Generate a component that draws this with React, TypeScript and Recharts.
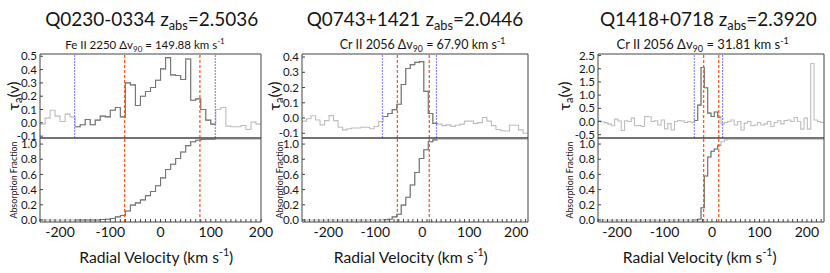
import React from 'react';
import { ComposedChart, Line, XAxis, YAxis, ReferenceLine } from 'recharts';

const FONT = 'Lato, "Noto Sans", sans-serif';
const INK = '#151515';
const FRAME = '#444';
const LIGHT = '#bdbdbd';
const DARK = '#767676';
const BLUE = '#7474ff';
const RED = '#ff5a1e';

const TOP_Y = 54;
const MID_Y = 138;
const BOT_Y = 222;
const AXIS_W = 40;
const PAD = 9; // room above/below each plot so tick labels are not clipped
const RIGHT_PAD = 14;

// shared ticks
const velTicks = [-200, -100, 0, 100, 200];
const velMinor = [
  -250, -240, -230, -220, -210, -190, -180, -170, -160, -150, -140, -130, -120, -110,
  -90, -80, -70, -60, -50, -40, -30, -20, -10, 10, 20, 30, 40, 50, 60, 70, 80, 90,
  110, 120, 130, 140, 150, 160, 170, 180, 190, 210, 220, 230, 240, 250,
];
const fracTicks = [0, 0.2, 0.4, 0.6, 0.8, 1.0];
const fracDomain: [number, number] = [-0.027, 1.08];

// Q0230-0334, Fe II 2250 (bin edges in km/s)
const vel1 = [
  -240, -230, -220, -210, -200, -190, -180, -170, -160, -150, -140, -130, -120, -110, -100,
  -90, -80, -70, -60, -50, -40, -30, -20, -10, 0, 10, 20, 30, 40, 50, 60, 70, 80, 90, 100,
  110, 120, 130, 140, 150, 160, 170, 180, 190, 200,
];
const tau1 = [
  -0.01, 0.035, 0.095, 0.05, 0.01, 0.065, 0.045, -0.03, -0.015, 0.025,
  -0.015, 0.02, 0.05, 0.045, 0.095, 0.115, 0.045, 0.3, 0.285, 0.13,
  0.2, 0.235, 0.265, 0.32, 0.405, 0.49, 0.36, 0.355, 0.325, 0.48,
  0.17, 0.18, 0.1, 0.02, -0.01, 0.1, 0.115, -0.025, -0.03, -0.03,
  -0.02, -0.05, 0.005, -0.01,
];
const frac1 = [
  0, 0, 0, 0, 0, 0, 0, 0, 0, 0, 0, 0,
  0.005, 0.01, 0.02, 0.04, 0.058, 0.117, 0.195, 0.225, 0.265, 0.32,
  0.375, 0.45, 0.555, 0.665, 0.735, 0.81, 0.895, 0.98, 1.03, 1.05,
  1.06, 1.065, 1.065, 1.065, 1.065, 1.065, 1.065, 1.065, 1.065, 1.065, 1.065, 1.065,
];
const tauTicks1 = [-0.1, 0, 0.1, 0.2, 0.3, 0.4, 0.5];
const blue1 = [-171, 109];
const red1 = [-71.5, 78.4];

// Q0743+1421, Cr II 2056
const vel2 = [
  -256, -246.4, -236.8, -227.2, -217.6, -208, -198.4, -188.8, -179.2, -169.6,
  -160, -150.4, -140.8, -131.2, -121.6, -112, -102.4, -92.8, -83.2, -73.6,
  -64, -54.4, -44.8, -35.2, -25.6, -16, -6.4, 3.2, 12.8, 22.4,
  32, 41.6, 51.2, 60.8, 70.4, 80, 89.6, 99.2, 108.8, 118.4,
  128, 137.6, 147.2, 156.8, 166.4, 176, 185.6, 195.2, 204.8, 214.4, 224,
];
const tau2 = [
  -0.02, -0.005, 0.015, -0.013, -0.045, -0.017, 0.016, -0.017, -0.06, -0.078,
  -0.07, -0.065, -0.065, -0.06, -0.06, -0.07, -0.056, -0.023, 0.01, 0.03,
  0.055, 0.09, 0.22, 0.325, 0.35, 0.365, 0.37, 0.175, 0.03, -0.035,
  -0.04, -0.05, -0.045, -0.055, -0.047, -0.04, -0.02, -0.02, -0.035, -0.03,
  0.003, -0.02, -0.05, -0.075, -0.083, -0.085, -0.047, -0.047, -0.078, -0.1,
];
const frac2 = [
  0, 0, 0, 0, 0, 0, 0, 0, 0, 0, 0, 0, 0, 0, 0, 0, 0, 0,
  0.003, 0.01, 0.04, 0.075, 0.195, 0.3, 0.46, 0.625, 0.81, 0.925, 1.03,
  1.055, 1.065, 1.065, 1.065, 1.065, 1.065, 1.065, 1.065, 1.065, 1.065, 1.065, 1.065,
  1.065, 1.065, 1.065, 1.065, 1.065, 1.065, 1.065, 1.065, 1.065,
];
const tauTicks2 = [-0.1, 0, 0.1, 0.2, 0.3, 0.4];
const blue2 = [-85, 30];
const red2 = [-53, 14.9];

// Q1418+0718, Cr II 2056
const vel3 = [
  -240, -233, -226, -219, -212, -205, -198, -191, -184, -177,
  -170, -163, -156, -149, -142, -135, -128, -121, -114, -107,
  -100, -93, -86, -79, -72, -65, -58, -51, -44, -37,
  -30, -23, -16, -9, -2, 5, 12, 19, 26, 33,
  40, 47, 54, 61, 68, 75, 82, 89, 96, 103,
  110, 117, 124, 131, 138, 145, 152, 159, 166, 173,
  180, 187, 194, 201, 208, 215, 222, 229, 236,
];
const tau3 = [
  0.03, -0.02, -0.05, -0.1, -0.16, 0.09, 0.02, -0.34, 0.03, 0,
  0.13, -0.16, -0.15, -0.19, 0.19, 0.18, 0, 0.03, -0.13, 0.06,
  -0.28, -0.08, -0.32, 0, 0.04, 0.02, -0.04, 0, -0.04, 0.04,
  0.62, 2.05, 1.28, 0.32, 0.19, 0.36, 0.17, -0.09, -0.04, 0,
  0.06, -0.13, 0, -0.32, -0.06, 0, -0.16, -0.13, -0.04, -0.13,
  -0.09, 0, -0.19, -0.04, 0.03, -0.09, 0.04, 0.06, 0, 0.15,
  0, -0.29, 0.13, -0.29, 2.2, 0.06, 0, -0.04,
];
const frac3 = [
  0, 0, 0, 0, 0, 0, 0, 0, 0, 0, 0, 0, 0, 0, 0, 0, 0, 0, 0, 0, 0, 0, 0, 0, 0, 0, 0, 0, 0, 0,
  0.01, 0.16, 0.58, 0.83, 0.905, 0.935, 0.985, 1.03,
  1.055, 1.065, 1.065, 1.065, 1.065, 1.065, 1.065, 1.065, 1.065, 1.065, 1.065, 1.065, 1.065,
  1.065, 1.065, 1.065, 1.065, 1.065, 1.065, 1.065, 1.065, 1.065, 1.065, 1.065, 1.065, 1.065,
  1.065, 1.065, 1.065, 1.065,
];
const tauTicks3 = [-0.5, 0, 0.5, 1, 1.5, 2, 2.5];
const blue3 = [-37.3, 22.5];
const red3 = [-17.5, 14.3];

type Panel = {
  qso: string;
  z: string;
  ion: string;
  dv: string;
  vel: number[];
  tau: number[];
  frac: number[];
  tauTicks: number[];
  blue: number[];
  red: number[];
  xDomain: [number, number];
  tauDomain: [number, number];
  left: number;
  right: number;
  titleX: number;
  titleW: number;
  subX: number;
  subSize: number;
  xlabX: number;
  tauLabX: number;
  fracLabX: number;
};

const panels: Panel[] = [
  {
    qso: 'Q0230-0334', z: '2.5036', ion: 'Fe II 2250', dv: '149.88',
    vel: vel1, tau: tau1, frac: frac1, tauTicks: tauTicks1, blue: blue1, red: red1,
    xDomain: [-240, 200], tauDomain: [-0.114, 0.517],
    left: 40, right: 261, titleX: 151.7, titleW: 213, subX: 145, subSize: 11.5,
    xlabX: 156.3, tauLabX: 18.5, fracLabX: 16.5,
  },
  {
    qso: 'Q0743+1421', z: '2.0446', ion: 'Cr II 2056', dv: '67.90',
    vel: vel2, tau: tau2, frac: frac2, tauTicks: tauTicks2, blue: blue2, red: red2,
    xDomain: [-256, 225], tauDomain: [-0.131, 0.42],
    left: 302, right: 528, titleX: 415, titleW: 216.6, subX: 422.5, subSize: 12.5,
    xlabX: 410.8, tauLabX: 280, fracLabX: 282.5,
  },
  {
    qso: 'Q1418+0718', z: '2.3920', ion: 'Cr II 2056', dv: '31.81',
    vel: vel3, tau: tau3, frac: frac3, tauTicks: tauTicks3, blue: blue3, red: red3,
    xDomain: [-240, 236], tauDomain: [-0.625, 2.56],
    left: 598, right: 824, titleX: 708.3, titleW: 216.7, subX: 702.7, subSize: 13,
    xlabX: 699.7, tauLabX: 570, fracLabX: 572.5,
  },
];

const fmt1 = (t: number) => t.toFixed(1);

// one row per bin edge; "inner" only inside the blue integration window
function stepRows(vel: number[], vals: number[], band: number[]) {
  const n = vals.length;
  const inside = (k: number) => {
    if (k < 0 || k >= n) return false;
    const mid = (vel[k] + vel[k + 1]) / 2;
    return mid > band[0] && mid < band[1];
  };
  return vel.map((v, i) => ({
    v,
    outer: i < n ? vals[i] : vals[n - 1],
    inner: inside(i) ? vals[i] : inside(i - 1) ? vals[i - 1] : null,
  }));
}

// bottom axis labels only on the major ticks
const VelTick = (props: any) => {
  const { x, y, payload } = props;
  if (!velTicks.includes(payload.value)) return <g />;
  return (
    <text x={x} y={y} dy="0.71em" textAnchor="middle" fontSize={14} fill={INK} fontFamily={FONT}>
      {payload.value}
    </text>
  );
};

function xAxes(p: Panel, withLabels: boolean) {
  const allTicks = [...velTicks, ...velMinor]
    .filter((t) => t > p.xDomain[0] - 0.5 && t < p.xDomain[1] + 0.5)
    .sort((a, b) => a - b);
  const common = {
    type: 'number' as const,
    dataKey: 'v',
    domain: p.xDomain,
    allowDataOverflow: true,
    interval: 0 as const,
    ticks: allTicks,
    tickSize: -3,
    axisLine: { stroke: FRAME, strokeWidth: 1.2 },
    tickLine: { stroke: FRAME },
  };
  return [
    <XAxis key="xt" xAxisId="xt" {...common} orientation="top" height={1} tick={false} />,
    <XAxis key="x" xAxisId="x" {...common} orientation="bottom" height={withLabels ? 30 : 1}
      tickMargin={8} tick={withLabels ? <VelTick /> : false} />,
  ];
}

function yAxes(domain: [number, number], ticks: number[]) {
  const common = {
    type: 'number' as const,
    domain,
    allowDataOverflow: true,
    ticks,
    interval: 0 as const,
    tickSize: -3,
    axisLine: { stroke: FRAME },
    tickLine: { stroke: FRAME },
  };
  return [
    <YAxis key="y" yAxisId="y" {...common} width={AXIS_W} tickMargin={6} tickFormatter={fmt1}
      tick={{ fontSize: 11.5, fill: INK, fontFamily: FONT }} />,
    <YAxis key="yr" yAxisId="yr" {...common} orientation="right" width={1} tick={false} />,
  ];
}

function steps(color: string, key: string) {
  return (
    <Line xAxisId="x" yAxisId="y" type="stepAfter" dataKey={key} stroke={color}
      strokeWidth={1.1} dot={false} isAnimationActive={false} />
  );
}

function PanelView({ p }: { p: Panel }) {
  const plotW = p.right - p.left;
  const chartW = AXIS_W + plotW + 1 + RIGHT_PAD;
  const topRows = stepRows(p.vel, p.tau, p.blue);
  const botRows = stepRows(p.vel, p.frac, p.blue);

  return (
    <>
      <div style={{ position: 'absolute', left: p.left - AXIS_W, top: TOP_Y - PAD - 1 }}>
        <ComposedChart width={chartW} height={PAD + 1 + (MID_Y - TOP_Y) + 1 + PAD} data={topRows}
          margin={{ top: PAD, right: RIGHT_PAD, bottom: PAD, left: 0 }}>
          {xAxes(p, false)}
          {yAxes(p.tauDomain, p.tauTicks)}
          {steps(LIGHT, 'outer')}
          {steps(DARK, 'inner')}
          {p.blue.map((b) => (
            <ReferenceLine key={'b' + b} xAxisId="x" yAxisId="y" x={b} stroke={BLUE}
              strokeWidth={1} strokeDasharray="2 1" />
          ))}
          {p.red.map((r) => (
            <ReferenceLine key={'r' + r} xAxisId="x" yAxisId="y" x={r} stroke={RED}
              strokeWidth={1.3} strokeDasharray="3 2" />
          ))}
        </ComposedChart>
      </div>
      <div style={{ position: 'absolute', left: p.left - AXIS_W, top: MID_Y - PAD - 1 }}>
        <ComposedChart width={chartW} height={PAD + 1 + (BOT_Y - MID_Y) + 30} data={botRows}
          margin={{ top: PAD, right: RIGHT_PAD, bottom: 0, left: 0 }}>
          {xAxes(p, true)}
          {yAxes(fracDomain, fracTicks)}
          {steps(LIGHT, 'outer')}
          {steps(DARK, 'inner')}
          {p.red.map((r) => (
            <ReferenceLine key={'r' + r} xAxisId="x" yAxisId="y" x={r} stroke={RED}
              strokeWidth={1.3} strokeDasharray="3 2" />
          ))}
        </ComposedChart>
      </div>
    </>
  );
}

function PanelText({ p }: { p: Panel }) {
  const midTop = (TOP_Y + MID_Y) / 2;
  const midBot = (MID_Y + BOT_Y) / 2;
  return (
    <g fill={INK} fontFamily={FONT}>
      <text x={p.titleX} y={26} textAnchor="middle" fontSize={18.5} textLength={p.titleW}
        lengthAdjust="spacingAndGlyphs">
        {p.qso} z<tspan fontSize={12.5} dy={4}>abs</tspan>
        <tspan dy={-4}>={p.z}</tspan>
      </text>
      <text x={p.subX} y={49} textAnchor="middle" fontSize={p.subSize}>
        {p.ion} Δv<tspan fontSize={p.subSize * 0.7} dy={3}>90</tspan>
        <tspan dy={-3}> = {p.dv} km s</tspan>
        <tspan fontSize={p.subSize * 0.7} dy={-5}>-1</tspan>
      </text>
      <text x={p.xlabX} y={263} textAnchor="middle" fontSize={15.5} textLength={154}
        lengthAdjust="spacingAndGlyphs">
        Radial Velocity (km s<tspan fontSize={10.5} dy={-7}>-1</tspan>
        <tspan dy={7}>)</tspan>
      </text>
      <text x={p.tauLabX} y={midTop} textAnchor="middle" fontSize={16}
        transform={`rotate(-90 ${p.tauLabX} ${midTop})`}>
        τ<tspan fontSize={11} dy={3}>a</tspan>
        <tspan dy={-3}>(v)</tspan>
      </text>
      <text x={p.fracLabX} y={midBot} textAnchor="middle" fontSize={9} textLength={77}
        lengthAdjust="spacingAndGlyphs" transform={`rotate(-90 ${p.fracLabX} ${midBot})`}>
        Absorption Fraction
      </text>
    </g>
  );
}

export default function App() {
  return (
    <div style={{ position: 'absolute', left: 0, top: 0, width: 830, height: 273, background: '#fff' }}>
      {panels.map((p) => (
        <PanelView key={p.qso} p={p} />
      ))}
      <svg width={830} height={273} style={{ position: 'absolute', left: 0, top: 0, pointerEvents: 'none' }}>
        {panels.map((p) => (
          <PanelText key={p.qso} p={p} />
        ))}
      </svg>
    </div>
  );
}
